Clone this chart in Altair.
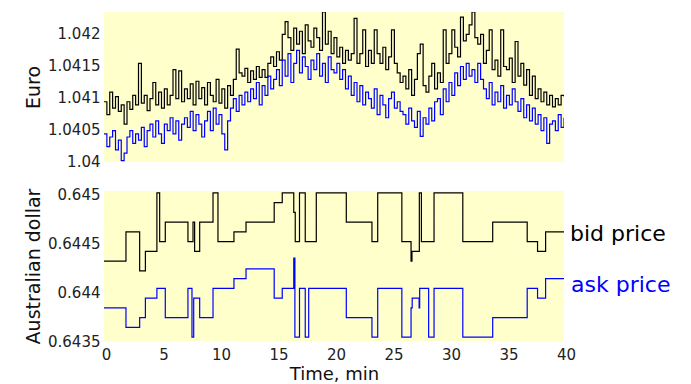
import altair as alt
import pandas as pd

# ---------------- data ----------------
EURO_STEP_MIN = 0.25  # sampling interval of the Euro quotes (minutes)

EURO_BID = [
    1.04090, 1.04070, 1.04105, 1.04080, 1.04098, 1.04075, 1.04085, 1.04055,
    1.04090, 1.04078, 1.04100, 1.04085, 1.04150, 1.04088, 1.04100, 1.04076,
    1.04095, 1.04120, 1.04085, 1.04105, 1.04080, 1.04110, 1.04085, 1.04100,
    1.04140, 1.04095, 1.04138, 1.04090, 1.04110, 1.04095, 1.04118, 1.04085,
    1.04122, 1.04095, 1.04112, 1.04085, 1.04120, 1.04100, 1.04090, 1.04125,
    1.04088, 1.04110, 1.04080, 1.04115, 1.04100, 1.04125, 1.04172, 1.04135,
    1.04130, 1.04142, 1.04120, 1.04138, 1.04125, 1.04145, 1.04128, 1.04140,
    1.04128, 1.04150, 1.04160, 1.04145, 1.04168, 1.04155, 1.04195, 1.04215,
    1.04190, 1.04170, 1.04205, 1.04180, 1.04200, 1.04165, 1.04210, 1.04185,
    1.04175, 1.04205, 1.04190, 1.04170, 1.04230, 1.04180, 1.04200, 1.04165,
    1.04190, 1.04160, 1.04175, 1.04150, 1.04170, 1.04155, 1.04165, 1.04220,
    1.04150, 1.04165, 1.04202, 1.04145, 1.04170, 1.04150, 1.04202, 1.04165,
    1.04150, 1.04175, 1.04140, 1.04160, 1.04202, 1.04150, 1.04135, 1.04120,
    1.04130, 1.04110, 1.04140, 1.04100, 1.04125, 1.04165, 1.04180, 1.04115,
    1.04105, 1.04130, 1.04150, 1.04110, 1.04135, 1.04120, 1.04202, 1.04150,
    1.04165, 1.04202, 1.04175, 1.04160, 1.04222, 1.04185, 1.04195, 1.04210,
    1.04230, 1.04190, 1.04180, 1.04195, 1.04150, 1.04170, 1.04202, 1.04140,
    1.04155, 1.04130, 1.04202, 1.04145, 1.04140, 1.04158, 1.04120, 1.04184,
    1.04130, 1.04150, 1.04116, 1.04140, 1.04100, 1.04130, 1.04095, 1.04110,
    1.04090, 1.04105, 1.04085, 1.04100, 1.04082, 1.04095, 1.04085, 1.04100,
    1.04098,
]

EURO_ASK = [
    1.04040, 1.04020, 1.04035, 1.04045, 1.04015, 1.04030, 1.03998, 1.04010,
    1.04035, 1.04045, 1.04025, 1.04040, 1.04030, 1.04050, 1.04020, 1.04045,
    1.04055, 1.04035, 1.04060, 1.04040, 1.04025, 1.04055, 1.04045, 1.04065,
    1.04040, 1.04060, 1.04030, 1.04055, 1.04065, 1.04050, 1.04075, 1.04045,
    1.04070, 1.04055, 1.04035, 1.04060, 1.04075, 1.04045, 1.04080, 1.04055,
    1.04070, 1.04040, 1.04015, 1.04060, 1.04080, 1.04095, 1.04075, 1.04100,
    1.04085, 1.04105, 1.04090, 1.04110, 1.04095, 1.04120, 1.04085, 1.04115,
    1.04100, 1.04130, 1.04110, 1.04125, 1.04140, 1.04115, 1.04155, 1.04130,
    1.04165, 1.04120, 1.04150, 1.04170, 1.04135, 1.04160, 1.04145, 1.04125,
    1.04155, 1.04140, 1.04165, 1.04130, 1.04150, 1.04120, 1.04160, 1.04140,
    1.04135, 1.04150, 1.04125, 1.04140, 1.04110, 1.04130, 1.04100, 1.04120,
    1.04090, 1.04115, 1.04085, 1.04105, 1.04095, 1.04080, 1.04110, 1.04070,
    1.04100, 1.04085, 1.04065, 1.04095, 1.04105, 1.04080, 1.04090, 1.04075,
    1.04070, 1.04055, 1.04080, 1.04060, 1.04050, 1.04075, 1.04036, 1.04065,
    1.04055, 1.04080, 1.04060, 1.04090, 1.04095, 1.04070, 1.04110, 1.04090,
    1.04120, 1.04100, 1.04135, 1.04115, 1.04145, 1.04125, 1.04150, 1.04130,
    1.04140, 1.04120, 1.04150, 1.04125, 1.04110, 1.04095, 1.04120, 1.04085,
    1.04105, 1.04090, 1.04115, 1.04080, 1.04100, 1.04085, 1.04110, 1.04090,
    1.04075, 1.04095, 1.04065, 1.04085, 1.04060, 1.04080, 1.04055, 1.04070,
    1.04045, 1.04065, 1.04025, 1.04055, 1.04060, 1.04045, 1.04070, 1.04050,
    1.04065,
]

AUD_BID_T = [0, 1.91, 3.1, 3.6, 4.6, 4.84, 5.33, 7.3, 7.74, 7.88, 8.32, 9.48,
             9.91, 11.3, 12.35, 14.8, 15.5, 16.5, 16.63, 17.0, 17.5, 18.46,
             21.07, 23.3, 23.8, 25.9, 26.7, 26.78, 27.42, 27.6, 28.7, 31.2,
             33.8, 36.8, 37.7, 38.4, 40]
AUD_BID = [0.6443, 0.6446, 0.6442, 0.6444, 0.6450, 0.6445, 0.6447, 0.6445,
           0.6447, 0.6444, 0.6447, 0.6450, 0.6445, 0.6446, 0.6447, 0.6449,
           0.6450, 0.6448, 0.6445, 0.6450, 0.6445, 0.6450, 0.6447, 0.6445,
           0.6450, 0.6445, 0.6443, 0.6444, 0.6450, 0.6445, 0.6450, 0.6445,
           0.6447, 0.6445, 0.6444, 0.6446, 0.6446]

AUD_ASK_T = [0, 1.91, 3.1, 3.6, 4.6, 5.33, 7.3, 7.65, 7.8, 8.32, 9.48, 11.3,
             12.35, 14.8, 15.5, 16.5, 16.6, 17.0, 17.5, 17.8, 21.07, 23.3,
             23.8, 25.9, 26.7, 26.8, 27.4, 27.45, 28.23, 28.7, 31.2, 33.8,
             36.8, 37.7, 38.4, 40]
AUD_ASK = [0.64382, 0.64362, 0.64372, 0.64392, 0.64402, 0.64372, 0.64402,
           0.64352, 0.64392, 0.64372, 0.64402, 0.64412, 0.64422, 0.64392,
           0.64402, 0.64433, 0.64352, 0.64402, 0.64352, 0.64402, 0.64372,
           0.64352, 0.64402, 0.64352, 0.64382, 0.64392, 0.64382, 0.64402,
           0.64352, 0.64402, 0.64352, 0.64372, 0.64402, 0.64392, 0.64412,
           0.64412]

SERIES = ["bid price", "ask price"]
COLORS = ["#000000", "#0000ff"]

EURO_TICKS = [1.04, 1.0405, 1.041, 1.0415, 1.042]
AUD_TICKS = [0.6435, 0.644, 0.6445, 0.645]
TIME_TICKS = [0, 5, 10, 15, 20, 25, 30, 35, 40]

# ---------------- tables ----------------
euro_t = [i * EURO_STEP_MIN for i in range(len(EURO_BID))]
euro_bid_df = pd.DataFrame({"t": euro_t, "v": EURO_BID})
euro_ask_df = pd.DataFrame({"t": euro_t, "v": EURO_ASK})
aud_bid_df = pd.DataFrame({"t": AUD_BID_T, "v": AUD_BID})
aud_ask_df = pd.DataFrame({"t": AUD_ASK_T, "v": AUD_ASK})
bid_lab_df = pd.DataFrame({"t": [AUD_BID_T[-1]], "v": [AUD_BID[-1]], "lab": [SERIES[0]]})
ask_lab_df = pd.DataFrame({"t": [AUD_ASK_T[-1]], "v": [AUD_ASK[-1]], "lab": [SERIES[1]]})

FONT = "DejaVu Sans"
W, H = 460, 150

x_scale = alt.Scale(domain=[0, 40], nice=False, zero=False)
euro_y_scale = alt.Scale(domain=[1.03996, 1.0423], nice=False, zero=False)
aud_y_scale = alt.Scale(domain=[0.64348, 0.64502], nice=False, zero=False)

euro_y_axis = alt.Axis(values=EURO_TICKS, format="~g", title="Euro",
                       labelOffset=2, labelPadding=4, titlePadding=4)
aud_y_axis = alt.Axis(values=AUD_TICKS, format="~g", title="Australian dollar",
                      labelOffset=2, labelPadding=4, titlePadding=4)
time_axis = alt.Axis(values=TIME_TICKS, format="d", title="Time, min",
                     labelFlush=False, labelOffset=2, labelPadding=6,
                     titlePadding=3, titleFontSize=18)


def line(df, color, y_scale, y_axis, x_axis):
    return alt.Chart(df).mark_line(
        interpolate="step-after", color=color, strokeWidth=1.2, clip=True
    ).encode(
        x=alt.X("t:Q", scale=x_scale, axis=x_axis),
        y=alt.Y("v:Q", scale=y_scale, axis=y_axis),
    )


top = alt.layer(
    line(euro_bid_df, COLORS[0], euro_y_scale, euro_y_axis, None),
    line(euro_ask_df, COLORS[1], euro_y_scale, euro_y_axis, None),
).properties(width=W, height=H)

bid_label = alt.Chart(bid_lab_df).mark_text(
    align="left", baseline="middle", dx=6, dy=2, fontSize=22, font=FONT, color=COLORS[0]
).encode(x=alt.X("t:Q", scale=x_scale, axis=time_axis),
         y=alt.Y("v:Q", scale=aud_y_scale, axis=aud_y_axis), text="lab:N")
ask_label = alt.Chart(ask_lab_df).mark_text(
    align="left", baseline="middle", dx=7, dy=6, fontSize=22, font=FONT, color=COLORS[1]
).encode(x=alt.X("t:Q", scale=x_scale, axis=time_axis),
         y=alt.Y("v:Q", scale=aud_y_scale, axis=aud_y_axis), text="lab:N")

bottom = alt.layer(
    line(aud_bid_df, COLORS[0], aud_y_scale, aud_y_axis, time_axis),
    line(aud_ask_df, COLORS[1], aud_y_scale, aud_y_axis, time_axis),
    bid_label,
    ask_label,
).properties(width=W, height=H)

chart = alt.vconcat(top, bottom, spacing=29, bounds="flush").properties(
    padding={"left": 16, "top": 4, "right": 2, "bottom": 0}
).configure_view(
    fill="#FFFFCC", stroke=None
).configure_axis(
    grid=False, domain=False, ticks=False,
    labelFont=FONT, labelFontSize=15, labelColor="#222222",
    titleFont=FONT, titleFontSize=19, titleFontWeight="normal", titleColor="#111111",
)

chart.save("out.html", embed_options={"renderer": "svg", "actions": False})
